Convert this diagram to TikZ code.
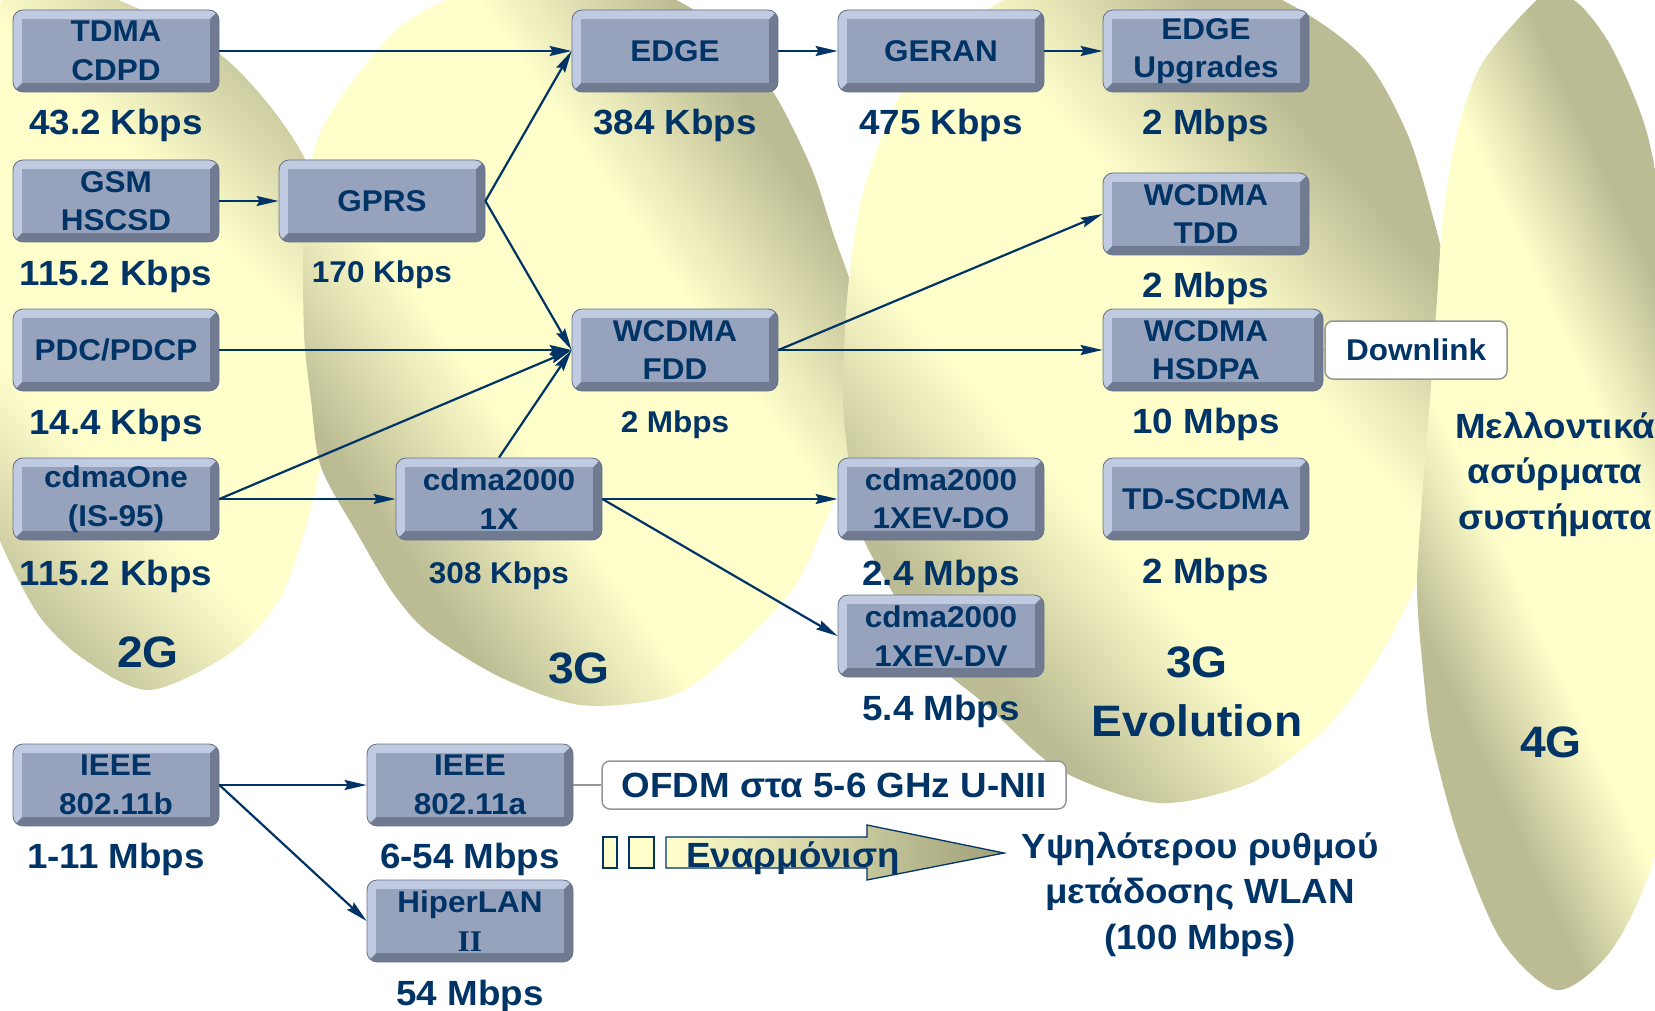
\documentclass[tikz,border=0pt]{standalone}
\usepackage{fontspec}
\setmainfont{Liberation Sans}[FakeStretch=1.05]
\newfontfamily\serifII{Liberation Serif}[FakeStretch=1.05]
\usetikzlibrary{arrows.meta}
\definecolor{navy}{RGB}{0,51,102}
\definecolor{boxmid}{RGB}{151,163,188}
\definecolor{boxlight}{RGB}{192,202,224}
\definecolor{boxdark}{RGB}{112,122,145}
\definecolor{boxline}{RGB}{104,114,136}
\definecolor{blobdark}{RGB}{188,188,148}
\definecolor{bloblight}{RGB}{255,255,204}
\definecolor{arrdark}{RGB}{160,160,122}
\definecolor{graylink}{RGB}{150,150,150}
\pgfdeclareverticalshading{blobsh}{100bp}{color(0bp)=(blobdark); color(37.5bp)=(blobdark); color(45bp)=(bloblight); color(55bp)=(bloblight); color(62.5bp)=(blobdark); color(100bp)=(blobdark)}
\newcommand\bxfont{\bfseries\fontsize{30}{38.5}\selectfont}
\newcommand\bigrate{\bfseries\fontsize{35}{40}\selectfont}
\newcommand\smrate{\bfseries\fontsize{30}{35}\selectfont}
\newcommand\genfont{\bfseries\fontsize{44}{59}\selectfont}
\newcommand\midfont{\bfseries\fontsize{35}{45.5}\selectfont}
\newcommand\ofdmfont{\bfseries\fontsize{35}{42}\selectfont}
\begin{document}
\begin{tikzpicture}[x=1pt,y=-1pt,
  tbox/.style={rounded corners=10pt, minimum width=206pt, minimum height=82pt, inner sep=0pt,
    align=center, font=\bxfont, text=navy, fill=boxmid, draw=boxline, line width=0.8pt,
    path picture={
      \fill[boxdark, sharp corners] (path picture bounding box.south west) rectangle (path picture bounding box.north east);
      \fill[boxlight, sharp corners] (path picture bounding box.south west) -- (path picture bounding box.north west) -- (path picture bounding box.north east) -- ([xshift=-9pt,yshift=-9pt]path picture bounding box.north east) -- ([xshift=9pt,yshift=-9pt]path picture bounding box.north west) -- ([xshift=9pt,yshift=9pt]path picture bounding box.south west) -- cycle;
      \fill[boxmid, sharp corners] ([xshift=9pt,yshift=9pt]path picture bounding box.south west) rectangle ([xshift=-9pt,yshift=-9pt]path picture bounding box.north east);
    }},
  arr/.style={draw=navy, line width=2.2pt, -{Stealth[length=22pt,width=10pt,inset=3pt]}},
  lab/.style={anchor=base, text=navy, font=\bigrate, inner sep=0pt},
  slab/.style={anchor=base, text=navy, font=\smrate, inner sep=0pt},
  gen/.style={text=navy, font=\genfont, align=center, inner sep=0pt},
  wbox/.style={draw=graylink, fill=white, rounded corners=8pt, line width=1.5pt, text=navy, inner sep=0pt},
  gline/.style={draw=graylink, line width=1.5pt}
]
\useasboundingbox (0,0) rectangle (1655,1011);

% ---------- generation blobs (drawn left to right, each over the previous) ----------
\begin{scope}
\clip plot[smooth cycle, tension=0.5] coordinates {(150,690) (232,652) (279,600) (304,533) (322,460) (334,380) (335,300) (325,220) (304,157) (265,100) (214,50) (118,0) (30,-20) (-40,60) (-60,200) (-50,360) (-22,480) (4,550) (40,617) (85,660)};
\begin{scope}[transform canvas={rotate around={-45:(150,345)}}]
\shade[shading=blobsh] (-750,-255) rectangle (1050,945);
\end{scope}
\end{scope}

\begin{scope}
\clip plot[smooth cycle, tension=0.5] coordinates {(580,705) (665,698) (715,668) (790,593) (826,520) (852,450) (860,380) (855,300) (833,233) (811,167) (772,90) (725,35) (676,0) (560,-45) (446,0) (393,33) (339,100) (314,150) (304,233) (304,333) (311,400) (321,467) (357,533) (393,593) (429,633) (500,677)};
\begin{scope}[transform canvas={rotate around={-55:(575,330)}}]
\shade[shading=blobsh] (-325,-210) rectangle (1475,870);
\end{scope}
\end{scope}

\begin{scope}
\clip plot[smooth cycle, tension=0.5] coordinates {(1159,803) (1251,783) (1313,740) (1350,700) (1383,650) (1417,583) (1448,500) (1460,400) (1452,300) (1433,217) (1407,133) (1363,57) (1282,0) (1150,-50) (1004,0) (930,60) (897,100) (861,200) (847,300) (843,400) (850,470) (861,533) (897,600) (933,660) (986,705) (1060,770)};
\begin{scope}[transform canvas={rotate around={-48:(1150,400)}}]
\shade[shading=blobsh] (250,-200) rectangle (2050,1000);
\end{scope}
\end{scope}

\begin{scope}
\clip plot[smooth cycle, tension=0.5] coordinates {(1556,990) (1606,957) (1643,890) (1675,780) (1690,600) (1685,400) (1668,250) (1647,133) (1613,50) (1580,5) (1550,-8) (1520,17) (1480,67) (1457,133) (1443,217) (1437,300) (1430,400) (1422,500) (1417,590) (1424,680) (1432,740) (1459,840) (1501,940)};
\begin{scope}[transform canvas={rotate around={-65:(1555,490)}}]
\shade[shading=blobsh] (655,130) rectangle (2455,850);
\end{scope}
\end{scope}

% ---------- boxes ----------
\node[tbox] (tdma)  at (116,51)  {TDMA\\CDPD};
\node[tbox] (gsm)   at (116,201) {GSM\\HSCSD};
\node[tbox] (pdc)   at (116,350) {PDC/PDCP};
\node[tbox] (cone)  at (116,499) {cdmaOne\\(IS-95)};
\node[tbox] (gprs)  at (382,201) {GPRS};
\node[tbox] (cx)    at (499,499) {cdma2000\\1X};
\node[tbox] (edge)  at (675,51)  {EDGE};
\node[tbox] (fdd)   at (675,350) {WCDMA\\FDD};
\node[tbox] (geran) at (941,51)  {GERAN};
\node[tbox] (evdo)  at (941,499) {cdma2000\\1XEV-DO};
\node[tbox] (evdv)  at (941,636) {cdma2000\\1XEV-DV};
\node[tbox] (eup)   at (1206,51) {EDGE\\Upgrades};
\node[tbox] (tdd)   at (1206,214) {WCDMA\\TDD};
\node[tbox, minimum width=220pt] (hsdpa) at (1213,350) {WCDMA\hspace*{14pt}\\HSDPA\hspace*{14pt}};
\node[tbox] (tds)   at (1206,499) {TD-SCDMA};
\node[tbox] (wb)    at (116,785) {IEEE\\802.11b};
\node[tbox] (wa)    at (470,785) {IEEE\\802.11a};
\node[tbox] (hiper) at (470,921) {HiperLAN\\{\serifII II}};

\node[wbox, minimum width=182pt, minimum height=58pt, font=\bxfont] (down) at (1416,350) {Downlink};
\node[wbox, minimum width=464pt, minimum height=48pt, font=\ofdmfont] (ofdm) at (834,785) {OFDM στα 5-6 GHz U-NII};

% ---------- connectors ----------
\draw[arr] (tdma.east) -- (edge.west);
\draw[arr] (gsm.east) -- (gprs.west);
\draw[arr] (gprs.east) -- (edge.west);
\draw[arr] (gprs.east) -- (fdd.west);
\draw[arr] (pdc.east) -- (fdd.west);
\draw[arr] (cone.east) -- (fdd.west);
\draw[arr] (cone.east) -- (cx.west);
\draw[arr] (cx.north) -- (fdd.west);
\draw[arr] (edge.east) -- (geran.west);
\draw[arr] (geran.east) -- (eup.west);
\draw[arr] (fdd.east) -- (tdd.west);
\draw[arr] (fdd.east) -- (hsdpa.west);
\draw[arr] (cx.east) -- (evdo.west);
\draw[arr] (cx.east) -- (evdv.west);
\draw[arr] (wb.east) -- (wa.west);
\draw[arr] (wb.east) -- (hiper.west);
\draw[gline] (hsdpa.east) -- (down.west);
\draw[gline] (wa.east) -- (ofdm.west);

% ---------- rates ----------
\node[lab] (r1) at (116,135) {43.2 Kbps};
\node[lab] (r2) at (116,285) {115.2 Kbps};
\node[lab] (r3) at (116,434) {14.4 Kbps};
\node[lab] (r4) at (116,585) {115.2 Kbps};
\node[slab] (r5) at (382,282) {170 Kbps};
\node[slab] (r6) at (499,583) {308 Kbps};
\node[lab] (r7) at (675,135) {384 Kbps};
\node[slab] (r8) at (675,432) {2 Mbps};
\node[lab] (r9) at (941,135) {475 Kbps};
\node[lab] (r10) at (941,585) {2.4 Mbps};
\node[lab] (r11) at (941,720) {5.4 Mbps};
\node[lab] (r12) at (1206,135) {2 Mbps};
\node[lab] (r13) at (1206,297) {2 Mbps};
\node[lab] (r14) at (1206,433) {10 Mbps};
\node[lab] (r15) at (1206,583) {2 Mbps};
\node[lab] (r16) at (116,868) {1-11 Mbps};
\node[lab] (r17) at (470,868) {6-54 Mbps};
\node[lab] (r18) at (470,1005) {54 Mbps};

% ---------- generation labels ----------
\node[gen, anchor=base] (g2) at (148,667) {2G};
\node[gen, anchor=base] (g3) at (579,683) {3G};
\node[gen] (g3e) at (1197,692) {3G\\Evolution};
\node[gen, anchor=base] (g4) at (1551,757) {4G};
\node[text=navy, font=\midfont, align=center, inner sep=0pt] (fut) at (1555,474) {Μελλοντικά\\ασύρματα\\συστήματα};

% ---------- harmonisation arrow ----------
\draw[navy, line width=1.3pt, fill=bloblight] (603,837) rectangle (617,868);
\draw[navy, line width=1.3pt, fill=bloblight] (629,837) rectangle (654,868);
\draw[navy, line width=1.3pt, left color=bloblight, right color=arrdark] (666,837) -- (867,837) -- (867,825) -- (1004,853) -- (867,880) -- (867,868) -- (666,868) -- cycle;
\node[anchor=base, text=navy, font=\ofdmfont, inner sep=0pt] (harm) at (793,867) {Εναρμόνιση};
\node[text=navy, font=\midfont, align=center, inner sep=0pt] (wlan) at (1200,894) {Υψηλότερου ρυθμού\\μετάδοσης WLAN\\(100 Mbps)};
\end{tikzpicture}
\end{document}
